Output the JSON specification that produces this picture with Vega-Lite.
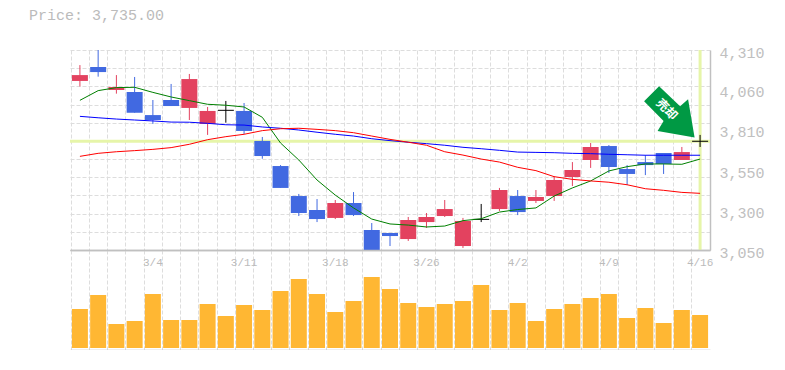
{"$schema":"https://vega.github.io/schema/vega-lite/v6.json","padding":{"left":29,"top":8,"right":0,"bottom":0},"background":"white","bounds":"flush","spacing":0,"title":{"text":"Price: 3,735.00","anchor":"start","frame":"group","font":"Liberation Mono","fontSize":15,"fontWeight":"normal","color":"#bbbbbb","dx":-41,"offset":22},"config":{"view":{"stroke":null},"axis":{"title":null}},"datasets":{"d":[
{"date":"2/26","open":4115,"high":4215,"low":4080,"close":4152,"vol":39000,"ma5":3993,"ma25":3892,"ma75":3640},
{"date":"2/27","open":4203,"high":4310,"low":4142,"close":4171,"vol":53000,"ma5":4054,"ma25":3883,"ma75":3659},
{"date":"2/28","open":4058,"high":4152,"low":4035,"close":4077,"vol":24000,"ma5":4073,"ma25":3875,"ma75":3669},
{"date":"3/1","open":4045,"high":4140,"low":3915,"close":3915,"vol":27000,"ma5":4075,"ma25":3869,"ma75":3676},
{"date":"3/4","open":3900,"high":3995,"low":3844,"close":3869,"vol":54000,"ma5":4043,"ma25":3863,"ma75":3684},
{"date":"3/5","open":3995,"high":4096,"low":3957,"close":3957,"vol":28000,"ma5":4014,"ma25":3856,"ma75":3695},
{"date":"3/6","open":3945,"high":4159,"low":3869,"close":4127,"vol":28000,"ma5":3991,"ma25":3855,"ma75":3716},
{"date":"3/7","open":3844,"high":3951,"low":3775,"close":3926,"vol":44000,"ma5":3968,"ma25":3848,"ma75":3745},
{"date":"3/8","open":3930,"high":3989,"low":3852,"close":3930,"vol":32000,"ma5":3962,"ma25":3839,"ma75":3764},
{"date":"3/11","open":3926,"high":3976,"low":3781,"close":3800,"vol":43000,"ma5":3951,"ma25":3837,"ma75":3779},
{"date":"3/12","open":3737,"high":3762,"low":3625,"close":3642,"vol":38000,"ma5":3886,"ma25":3825,"ma75":3802},
{"date":"3/13","open":3579,"high":3585,"low":3441,"close":3441,"vol":57000,"ma5":3724,"ma25":3817,"ma75":3814},
{"date":"3/14","open":3390,"high":3403,"low":3264,"close":3283,"vol":69000,"ma5":3617,"ma25":3806,"ma75":3817},
{"date":"3/15","open":3302,"high":3371,"low":3226,"close":3245,"vol":54000,"ma5":3491,"ma25":3792,"ma75":3810},
{"date":"3/18","open":3252,"high":3365,"low":3245,"close":3346,"vol":36000,"ma5":3396,"ma25":3779,"ma75":3802},
{"date":"3/19","open":3346,"high":3415,"low":3264,"close":3270,"vol":47000,"ma5":3315,"ma25":3768,"ma75":3789},
{"date":"3/20","open":3176,"high":3220,"low":3050,"close":3050,"vol":71000,"ma5":3245,"ma25":3751,"ma75":3768},
{"date":"3/22","open":3157,"high":3157,"low":3075,"close":3138,"vol":59000,"ma5":3214,"ma25":3739,"ma75":3747},
{"date":"3/25","open":3119,"high":3258,"low":3107,"close":3239,"vol":45000,"ma5":3207,"ma25":3729,"ma75":3729},
{"date":"3/26","open":3226,"high":3283,"low":3189,"close":3258,"vol":41000,"ma5":3195,"ma25":3720,"ma75":3710},
{"date":"3/27","open":3264,"high":3365,"low":3258,"close":3308,"vol":44000,"ma5":3201,"ma25":3710,"ma75":3669},
{"date":"3/28","open":3075,"high":3252,"low":3063,"close":3233,"vol":47000,"ma5":3235,"ma25":3697,"ma75":3648},
{"date":"3/29","open":3243,"high":3340,"low":3226,"close":3243,"vol":63000,"ma5":3247,"ma25":3688,"ma75":3623},
{"date":"4/1","open":3308,"high":3441,"low":3296,"close":3428,"vol":38000,"ma5":3289,"ma25":3678,"ma75":3604},
{"date":"4/2","open":3390,"high":3428,"low":3270,"close":3289,"vol":45000,"ma5":3305,"ma25":3667,"ma75":3571},
{"date":"4/3","open":3359,"high":3428,"low":3346,"close":3384,"vol":27000,"ma5":3315,"ma25":3665,"ma75":3550},
{"date":"4/4","open":3390,"high":3516,"low":3359,"close":3491,"vol":39000,"ma5":3390,"ma25":3663,"ma75":3512},
{"date":"4/5","open":3510,"high":3604,"low":3453,"close":3554,"vol":44000,"ma5":3441,"ma25":3659,"ma75":3495},
{"date":"4/8","open":3617,"high":3724,"low":3567,"close":3699,"vol":50000,"ma5":3485,"ma25":3657,"ma75":3485},
{"date":"4/9","open":3705,"high":3711,"low":3535,"close":3573,"vol":54000,"ma5":3548,"ma25":3653,"ma75":3477},
{"date":"4/10","open":3560,"high":3585,"low":3459,"close":3529,"vol":30000,"ma5":3575,"ma25":3650,"ma75":3461},
{"date":"4/11","open":3604,"high":3648,"low":3522,"close":3585,"vol":40000,"ma5":3592,"ma25":3647,"ma75":3436},
{"date":"4/12","open":3661,"high":3661,"low":3529,"close":3592,"vol":25000,"ma5":3592,"ma25":3647,"ma75":3426},
{"date":"4/15","open":3617,"high":3699,"low":3617,"close":3667,"vol":38000,"ma5":3590,"ma25":3647,"ma75":3413},
{"date":"4/16","open":3735,"high":3775,"low":3699,"close":3735,"vol":33000,"ma5":3623,"ma25":3647,"ma75":3407,"signal":"売却"}
]},"vconcat":[
{"width":640,"height":200,"data":{"name":"d"},"resolve":{"axis":{"y":"independent"}},"layer":[
{"mark":{"type":"rule","strokeWidth":3,"color":"#e6f5a9"},"transform":[{"filter":"datum.date=='4/16'"}],"encoding":{"y":{"field":"close","type":"quantitative","scale":{"domain":[3050,4310],"nice":false,"zero":false},"axis":{"orient":"left","values":[3050,3164.5,3279.1,3393.6,3508.2,3622.7,3737.3,3851.8,3966.4,4080.9,4195.5,4310],"grid":true,"gridColor":"#dddddd","gridDash":[4,2],"labels":false,"ticks":false,"domain":false}}}},
{"mark":{"type":"rule","strokeWidth":3,"color":"#e6f5a9"},"transform":[{"filter":"datum.date=='4/16'"}],"encoding":{"x":{"field":"date","type":"ordinal","sort":null,"scale":{"domain":["2/26","2/27","2/28","3/1","3/4","3/5","3/6","3/7","3/8","3/11","3/12","3/13","3/14","3/15","3/18","3/19","3/20","3/22","3/25","3/26","3/27","3/28","3/29","4/1","4/2","4/3","4/4","4/5","4/8","4/9","4/10","4/11","4/12","4/15","4/16"],"paddingInner":0.123,"paddingOuter":0.105},"axis":{"orient":"bottom","bandPosition":0,"tickOffset":-1.3,"values":["2/26","2/27","2/28","3/1","3/4","3/5","3/6","3/7","3/8","3/11","3/12","3/13","3/14","3/15","3/18","3/19","3/20","3/22","3/25","3/26","3/27","3/28","3/29","4/1","4/2","4/3","4/4","4/5","4/8","4/9","4/10","4/11","4/12","4/15","4/16"],"grid":true,"gridColor":"#dddddd","gridDash":[4,2],"labels":false,"ticks":false,"domain":true,"domainColor":"#c0c0c0","domainWidth":1.5}}}},
{"mark":{"type":"rule","strokeWidth":1},"encoding":{"x":{"field":"date","type":"ordinal"},"y":{"field":"high","type":"quantitative","scale":{"domain":[3050,4310],"nice":false,"zero":false},"axis":{"orient":"right","values":[3050,3300,3550,3810,4060,4310],"format":",d","grid":false,"ticks":false,"domain":true,"domainColor":"#c0c0c0","domainWidth":1.5,"labelFont":"Liberation Mono","labelFontSize":15,"labelColor":"#c0c0c0","labelPadding":9,"labelOffset":2,"labelFlush":false}},"y2":{"field":"low"},"color":{"condition":[{"test":"datum.close>datum.open","value":"#e3425f"},{"test":"datum.close<datum.open","value":"#4169e1"}],"value":"#000000"}}},
{"mark":{"type":"bar"},"transform":[{"filter":"datum.open!=datum.close"}],"encoding":{"x":{"field":"date","type":"ordinal"},"y":{"field":"open","type":"quantitative","scale":{"domain":[3050,4310],"nice":false,"zero":false},"axis":null},"y2":{"field":"close"},"color":{"condition":[{"test":"datum.close>datum.open","value":"#e3425f"}],"value":"#4169e1"}}},
{"mark":{"type":"tick","orient":"horizontal","thickness":1,"size":16,"color":"#000000","opacity":1},"transform":[{"filter":"datum.open==datum.close"}],"encoding":{"x":{"field":"date","type":"ordinal"},"y":{"field":"close","type":"quantitative","scale":{"domain":[3050,4310],"nice":false,"zero":false},"axis":null}}},
{"mark":{"type":"line","color":"#008000","strokeWidth":1},"encoding":{"x":{"field":"date","type":"ordinal"},"y":{"field":"ma5","type":"quantitative","scale":{"domain":[3050,4310],"nice":false,"zero":false},"axis":null}}},
{"mark":{"type":"line","color":"#0000ff","strokeWidth":1},"encoding":{"x":{"field":"date","type":"ordinal"},"y":{"field":"ma25","type":"quantitative","scale":{"domain":[3050,4310],"nice":false,"zero":false},"axis":null}}},
{"mark":{"type":"line","color":"#ff0000","strokeWidth":1},"encoding":{"x":{"field":"date","type":"ordinal"},"y":{"field":"ma75","type":"quantitative","scale":{"domain":[3050,4310],"nice":false,"zero":false},"axis":null}}},
{"mark":{"type":"point","filled":true,"opacity":1,"size":4,"color":"#009944","strokeWidth":0,"shape":"M-41,-55 L-56,-40 L-36.5,-20.3 L-42.5,-10.3 L-5.5,-3.7 L-12,-42 L-20,-35 Z"},"transform":[{"filter":"datum.date=='4/16'"}],"encoding":{"x":{"field":"date","type":"ordinal"},"y":{"field":"close","type":"quantitative","scale":{"domain":[3050,4310],"nice":false,"zero":false},"axis":null}}},
{"mark":{"type":"text","font":"Noto Sans CJK JP","fontWeight":"bold","fontSize":12,"color":"#ffffff","opacity":1,"angle":45,"align":"center","baseline":"middle","dx":-46,"dy":1},"transform":[{"filter":"datum.date=='4/16'"}],"encoding":{"text":{"field":"signal","type":"nominal"},"x":{"field":"date","type":"ordinal"},"y":{"field":"close","type":"quantitative","scale":{"domain":[3050,4310],"nice":false,"zero":false},"axis":null}}}
]},
{"width":640,"height":100,"data":{"name":"d"},"resolve":{"axis":{"x":"independent"}},"layer":[
{"mark":{"type":"bar","color":"#ffb733"},"encoding":{"x":{"field":"date","type":"ordinal","sort":null,"scale":{"domain":["2/26","2/27","2/28","3/1","3/4","3/5","3/6","3/7","3/8","3/11","3/12","3/13","3/14","3/15","3/18","3/19","3/20","3/22","3/25","3/26","3/27","3/28","3/29","4/1","4/2","4/3","4/4","4/5","4/8","4/9","4/10","4/11","4/12","4/15","4/16"],"paddingInner":0.123,"paddingOuter":0.105},"axis":{"orient":"bottom","bandPosition":0,"tickOffset":-1.3,"values":["2/26","2/27","2/28","3/1","3/4","3/5","3/6","3/7","3/8","3/11","3/12","3/13","3/14","3/15","3/18","3/19","3/20","3/22","3/25","3/26","3/27","3/28","3/29","4/1","4/2","4/3","4/4","4/5","4/8","4/9","4/10","4/11","4/12","4/15","4/16"],"grid":true,"gridColor":"#dddddd","gridDash":[4,2],"labels":false,"ticks":false,"domain":true,"domainColor":"#c0c0c0","domainWidth":1.5}},"y":{"field":"vol","type":"quantitative","scale":{"domain":[-2000,98000],"nice":false,"zero":false},"axis":{"orient":"right","labels":false,"ticks":false,"grid":false,"domain":true,"domainColor":"#c0c0c0","domainWidth":1.5}}}},
{"mark":{"type":"bar","opacity":0},"encoding":{"x":{"field":"date","type":"ordinal","sort":null,"axis":{"orient":"top","values":["3/4","3/11","3/18","3/26","4/2","4/9","4/16"],"grid":false,"ticks":false,"domain":true,"domainColor":"#c0c0c0","domainWidth":1.5,"labelAngle":0,"labelFont":"Liberation Mono","labelFontSize":11,"labelColor":"#bbbbbb","labelPadding":-17,"labelFlush":false,"labelOverlap":false}},"y":{"field":"vol","type":"quantitative","axis":null}}}
]}
]}
